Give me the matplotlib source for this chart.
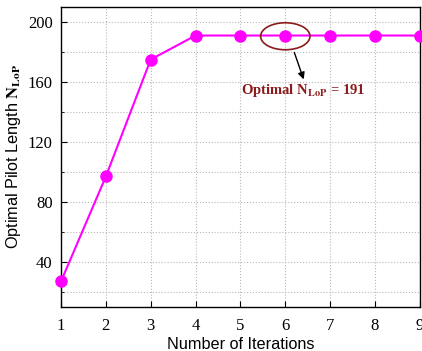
import matplotlib.pyplot as plt
from matplotlib.patches import Ellipse
from matplotlib.ticker import MultipleLocator

# --- dados ---
iteracoes = [1, 2, 3, 4, 5, 6, 7, 8, 9]
n_lop = [27, 97, 175, 191, 191, 191, 191, 191, 191]
y_ticks = [40, 80, 120, 160, 200]

plt.rcParams['mathtext.fontset'] = 'stix'

fig = plt.figure(figsize=(4.22, 3.51), dpi=100)
ax = fig.add_axes([0.1445, 0.1254, 0.8505, 0.8546])

ax.plot(iteracoes, n_lop, color='#ff00ff', linewidth=1.5, marker='o',
        markersize=8, clip_on=False, zorder=3)

ax.set_xlim(1, 9)
ax.set_ylim(10, 210)
ax.set_xticks(iteracoes)
ax.set_yticks(y_ticks)
ax.yaxis.set_minor_locator(MultipleLocator(20))

for lbl in ax.get_xticklabels() + ax.get_yticklabels():
    lbl.set_fontfamily('Liberation Serif')
    lbl.set_fontsize(12)

ax.tick_params(which='both', direction='in', top=False, right=False)
ax.tick_params(which='major', length=4, pad=6)
ax.tick_params(which='minor', length=2.5)
ax.tick_params(axis='x', pad=8)

ax.grid(True, which='major', linestyle=':', color='#b8b8b8', linewidth=0.8)
ax.grid(True, which='minor', axis='y', linestyle=':', color='#b8b8b8', linewidth=0.8)
for s in ax.spines.values():
    s.set_linewidth(1.0)

ax.set_xlabel('Number of Iterations', fontfamily='Liberation Sans', fontsize=11.7, labelpad=2)
ax.set_ylabel(r'Optimal Pilot Length $\mathbf{N}_{\mathbf{LoP}}$',
              fontfamily='Liberation Sans', fontsize=11.7, labelpad=3)

# anotação
ax.add_patch(Ellipse((6, 190.5), 1.1, 18, fill=False, edgecolor='#8b1a1a', linewidth=1.2, zorder=4))
ax.annotate('', xy=(6.43, 160), xytext=(6.18, 181.5),
            arrowprops=dict(arrowstyle='-|>', color='black', lw=1.0, mutation_scale=10))
ax.text(6.4, 154.5, r'Optimal N$_{\mathbf{LoP}}$ = 191', color='#8b1a1a',
        fontfamily='Liberation Serif', fontweight='bold', fontsize=10.5,
        ha='center', va='center')

fig.savefig('out.png', dpi=100)
